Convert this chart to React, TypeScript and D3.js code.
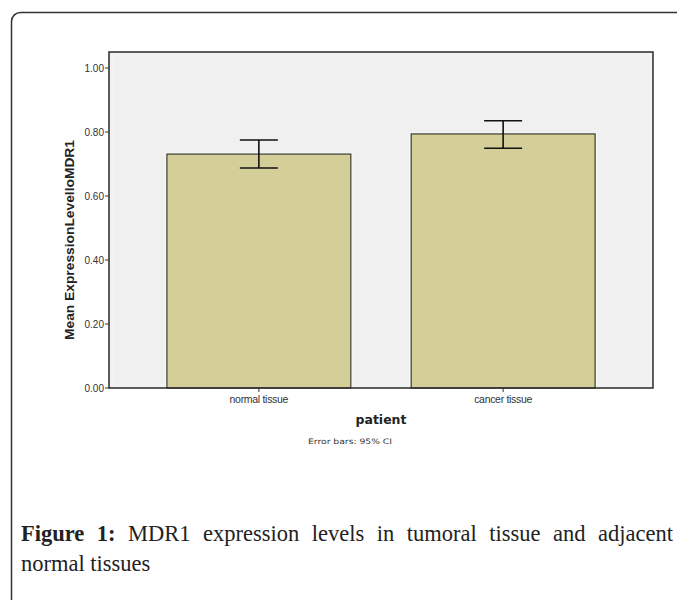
import React, { useEffect, useRef } from "react";
import * as d3 from "d3";

const categories = ["normal tissue", "cancer tissue"];
const means = [0.731, 0.794];
const ciLow = [0.6875, 0.749];
const ciHigh = [0.775, 0.835];
const yTicks = [0, 0.2, 0.4, 0.6, 0.8, 1.0];
const captionBold = "Figure 1:";
const captionLine1 = "MDR1 expression levels in tumoral tissue and adjacent";
const captionLine2 = "normal tissues";

const W = 677;
const H = 600;
const plot = { left: 109, right: 653, top: 52, bottom: 388 };
const capFont = "Liberation Serif, serif";
const capSize = 22.5;

export default function App() {
  const capRef = useRef<SVGGElement>(null);

  const x = d3
    .scaleBand()
    .domain(categories)
    .range([plot.left, plot.right])
    .paddingInner(0.247)
    .paddingOuter(0.237);

  const y = d3.scaleLinear().domain([0, 1.05]).range([plot.bottom, plot.top]);

  useEffect(() => {
    // justified caption: place words one by one and spread the gaps
    const g = d3.select(capRef.current);
    g.selectAll("*").remove();
    const flat: { w: string; bold: boolean }[] = [];
    captionBold.split(" ").forEach((w) => flat.push({ w, bold: true }));
    captionLine1.split(" ").forEach((w) => flat.push({ w, bold: false }));
    const x0 = 21;
    const x1 = 673;
    const nodes = flat.map((d) =>
      g
        .append("text")
        .attr("y", 541)
        .attr("font-family", capFont)
        .attr("font-size", capSize)
        .attr("font-weight", d.bold ? "bold" : "normal")
        .attr("fill", "#222")
        .text(d.w)
    );
    const widths = nodes.map((n) => (n.node() as SVGTextElement).getComputedTextLength());
    const gap = (x1 - x0 - d3.sum(widths)) / (flat.length - 1);
    let cx = x0;
    nodes.forEach((n, i) => {
      n.attr("x", cx);
      cx += widths[i] + gap;
    });
    g.append("text")
      .attr("x", x0)
      .attr("y", 571)
      .attr("font-family", capFont)
      .attr("font-size", capSize)
      .attr("fill", "#222")
      .text(captionLine2);
  }, []);

  const capW = 38;

  return (
    <div style={{ position: "absolute", left: 0, top: 0 }}>
      <svg width={W} height={H} style={{ display: "block", background: "#fff" }}>
        <rect x={11.5} y={12.5} width={720} height={650} rx={9} fill="none" stroke="#333" strokeWidth={1.5} />

        <rect
          x={plot.left}
          y={plot.top}
          width={plot.right - plot.left}
          height={plot.bottom - plot.top}
          fill="#f0f0f0"
        />
        <rect
          x={plot.left + 3}
          y={plot.top + 3}
          width={plot.right - plot.left - 6}
          height={plot.bottom - plot.top - 6}
          fill="none"
          stroke="#f6f6f6"
          strokeWidth={1}
        />

        {categories.map((c, i) => (
          <g key={c}>
            <rect
              x={(x(c) as number) - 1.5}
              y={y(means[i]) - 1.5}
              width={x.bandwidth() + 3}
              height={plot.bottom - y(means[i]) + 1.5}
              fill="#fbfbfb"
            />
            <rect
              x={x(c)}
              y={y(means[i])}
              width={x.bandwidth()}
              height={plot.bottom - y(means[i])}
              fill="#d4cf98"
              stroke="#3a3a30"
              strokeWidth={1.2}
            />
          </g>
        ))}

        {categories.map((c, i) => {
          const cx = (x(c) as number) + x.bandwidth() / 2;
          return (
            <g key={c + "-err"} stroke="#111" strokeWidth={1.6}>
              <line x1={cx} x2={cx} y1={y(ciHigh[i])} y2={y(ciLow[i])} />
              <line x1={cx - capW / 2} x2={cx + capW / 2} y1={y(ciHigh[i])} y2={y(ciHigh[i])} />
              <line x1={cx - capW / 2} x2={cx + capW / 2} y1={y(ciLow[i])} y2={y(ciLow[i])} />
            </g>
          );
        })}

        <rect
          x={plot.left}
          y={plot.top}
          width={plot.right - plot.left}
          height={plot.bottom - plot.top}
          fill="none"
          stroke="#2a2a2a"
          strokeWidth={1.5}
        />

        {yTicks.map((t) => (
          <g key={t}>
            <line x1={plot.left - 4} x2={plot.left} y1={y(t)} y2={y(t)} stroke="#333" strokeWidth={1} />
            <text
              x={plot.left - 5}
              y={y(t)}
              dy="0.35em"
              textAnchor="end"
              fontFamily="Arial, Liberation Sans, sans-serif"
              fontSize={10}
              fill="#333"
            >
              {d3.format(".2f")(t)}
            </text>
          </g>
        ))}

        {categories.map((c) => {
          const cx = (x(c) as number) + x.bandwidth() / 2;
          return (
            <g key={c + "-tick"}>
              <line x1={cx} x2={cx} y1={plot.bottom} y2={plot.bottom + 4} stroke="#333" strokeWidth={1} />
              <text
                x={cx}
                y={plot.bottom + 15}
                textAnchor="middle"
                fontFamily="Arial, Liberation Sans, sans-serif"
                fontSize={10.5}
                fill="#333"
                letterSpacing={-0.3}
              >
                {c}
              </text>
            </g>
          );
        })}

        <text
          transform={`translate(74, 240) rotate(-90)`}
          textAnchor="middle"
          fontFamily="Arial, Liberation Sans, sans-serif"
          fontSize={13}
          fontWeight="bold"
          fill="#222"
          textLength={200}
          lengthAdjust="spacingAndGlyphs"
        >
          Mean ExpressionLevelloMDR1
        </text>

        <text
          x={(plot.left + plot.right) / 2}
          y={424}
          textAnchor="middle"
          fontFamily="DejaVu Sans, sans-serif"
          fontSize={12.5}
          fontWeight="bold"
          fill="#222"
        >
          patient
        </text>

        <text
          x={350}
          y={444}
          textAnchor="middle"
          fontFamily="DejaVu Sans, sans-serif"
          fontSize={7.5}
          fill="#333"
          textLength={84}
          lengthAdjust="spacingAndGlyphs"
        >
          Error bars: 95% CI
        </text>

        <g ref={capRef} />
      </svg>
    </div>
  );
}
